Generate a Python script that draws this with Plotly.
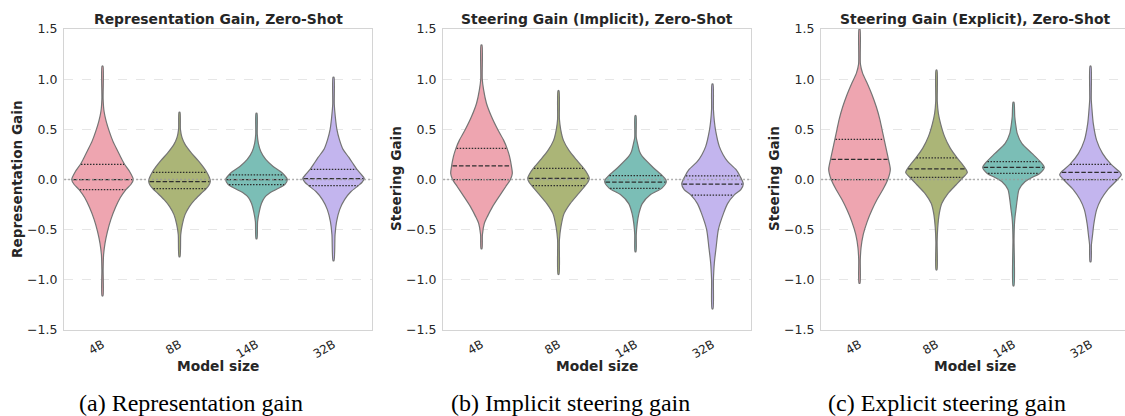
import numpy as np
import plotly.graph_objects as go

MODELS = ["4B", "8B", "14B", "32B"]
COLORS = ["#eea5b0", "#abb577", "#7bbeb6", "#c3b5ee"]
PANEL_TITLES = ["Representation Gain, Zero-Shot", "Steering Gain (Implicit), Zero-Shot",
                "Steering Gain (Explicit), Zero-Shot"]
Y_TITLES = ["Representation Gain", "Steering Gain", "Steering Gain"]
CAPTIONS = ["(a) Representation gain", "(b) Implicit steering gain", "(c) Explicit steering gain"]
Y_TICKS = [-1.5, -1.0, -0.5, 0.0, 0.5, 1.0, 1.5]

# ---- density profiles (value level, relative density) ----
# Representation gain
rep_4b_y = [1.13, 0.80, 0.68, 0.58, 0.48, 0.38, 0.28, 0.20, 0.15, 0.08, 0.0, -0.05, -0.10, -0.18, -0.28, -0.40, -0.52, -0.64, -0.75, -0.90, -1.16]
rep_4b_d = [0.015, 0.02, 0.05, 0.12, 0.22, 0.34, 0.50, 0.63, 0.72, 0.88, 1.0, 0.92, 0.76, 0.58, 0.42, 0.27, 0.16, 0.08, 0.035, 0.02, 0.015]
rep_8b_y = [0.67, 0.50, 0.42, 0.35, 0.27, 0.19, 0.12, 0.07, 0.02, -0.02, -0.06, -0.09, -0.14, -0.20, -0.27, -0.35, -0.45, -0.55, -0.77]
rep_8b_d = [0.015, 0.03, 0.08, 0.18, 0.37, 0.60, 0.78, 0.89, 0.97, 1.0, 0.95, 0.87, 0.70, 0.50, 0.32, 0.18, 0.09, 0.04, 0.015]
rep_14b_y = [0.66, 0.45, 0.36, 0.28, 0.20, 0.13, 0.08, 0.045, 0.0, -0.05, -0.09, -0.13, -0.18, -0.24, -0.32, -0.42, -0.59]
rep_14b_d = [0.015, 0.025, 0.06, 0.14, 0.30, 0.54, 0.78, 0.90, 1.0, 0.92, 0.70, 0.45, 0.26, 0.16, 0.09, 0.035, 0.015]
rep_32b_y = [1.02, 0.75, 0.62, 0.50, 0.40, 0.30, 0.22, 0.15, 0.10, 0.05, 0.01, -0.03, -0.06, -0.12, -0.20, -0.30, -0.42, -0.55, -0.81]
rep_32b_d = [0.015, 0.025, 0.06, 0.11, 0.19, 0.31, 0.50, 0.65, 0.76, 0.90, 1.0, 0.92, 0.81, 0.57, 0.36, 0.20, 0.10, 0.05, 0.015]
rep_q1 = [-0.10, -0.09, -0.05, -0.06]
rep_med = [0.0, -0.02, 0.0, 0.01]
rep_q3 = [0.15, 0.07, 0.045, 0.10]

# Implicit steering gain
imp_4b_y = [1.34, 1.0, 0.89, 0.76, 0.63, 0.49, 0.39, 0.31, 0.23, 0.135, 0.06, 0.0, -0.07, -0.17, -0.27, -0.37, -0.44, -0.55, -0.69]
imp_4b_d = [0.015, 0.025, 0.07, 0.16, 0.32, 0.54, 0.72, 0.83, 0.91, 0.97, 1.0, 0.94, 0.79, 0.57, 0.36, 0.19, 0.09, 0.03, 0.015]
imp_8b_y = [0.885, 0.60, 0.50, 0.39, 0.29, 0.19, 0.11, 0.05, 0.012, -0.03, -0.06, -0.14, -0.24, -0.34, -0.47, -0.60, -0.945]
imp_8b_d = [0.015, 0.03, 0.07, 0.16, 0.34, 0.60, 0.82, 0.95, 1.0, 0.95, 0.87, 0.65, 0.38, 0.18, 0.08, 0.03, 0.015]
imp_14b_y = [0.636, 0.42, 0.36, 0.28, 0.23, 0.13, 0.038, 0.0, -0.025, -0.088, -0.15, -0.24, -0.34, -0.44, -0.55, -0.72]
imp_14b_d = [0.015, 0.025, 0.065, 0.13, 0.22, 0.54, 0.87, 0.98, 1.0, 0.85, 0.49, 0.22, 0.11, 0.055, 0.025, 0.015]
imp_32b_y = [0.952, 0.70, 0.58, 0.49, 0.33, 0.25, 0.18, 0.10, 0.035, -0.045, -0.10, -0.155, -0.24, -0.335, -0.50, -0.67, -0.83, -1.0, -1.29]
imp_32b_d = [0.015, 0.03, 0.06, 0.10, 0.22, 0.34, 0.49, 0.76, 0.89, 1.0, 0.92, 0.70, 0.49, 0.36, 0.19, 0.12, 0.06, 0.03, 0.015]
imp_q1 = [0.0, -0.06, -0.088, -0.155]
imp_med = [0.135, 0.012, -0.025, -0.045]
imp_q3 = [0.31, 0.11, 0.038, 0.035]

# Explicit steering gain
exp_4b_y = [1.5, 1.15, 1.06, 0.96, 0.85, 0.72, 0.60, 0.50, 0.40, 0.30, 0.20, 0.10, 0.0, -0.10, -0.20, -0.30, -0.42, -0.55, -0.68, -0.80, -1.035]
exp_4b_d = [0.015, 0.03, 0.10, 0.25, 0.40, 0.55, 0.66, 0.73, 0.80, 0.87, 0.94, 1.0, 0.92, 0.76, 0.57, 0.41, 0.25, 0.12, 0.05, 0.025, 0.015]
exp_8b_y = [1.09, 0.78, 0.66, 0.56, 0.43, 0.31, 0.215, 0.15, 0.105, 0.07, 0.02, -0.055, -0.14, -0.24, -0.34, -0.48, -0.62, -0.90]
exp_8b_d = [0.015, 0.025, 0.06, 0.13, 0.26, 0.45, 0.67, 0.84, 0.95, 1.0, 0.86, 0.63, 0.37, 0.17, 0.09, 0.04, 0.02, 0.015]
exp_14b_y = [0.77, 0.63, 0.55, 0.46, 0.36, 0.26, 0.178, 0.12, 0.06, 0.02, -0.02, -0.10, -0.20, -0.30, -0.37, -0.45, -0.60, -1.06]
exp_14b_d = [0.015, 0.04, 0.07, 0.12, 0.27, 0.60, 0.87, 1.0, 0.85, 0.60, 0.38, 0.18, 0.12, 0.08, 0.05, 0.03, 0.018, 0.015]
exp_32b_y = [1.13, 0.80, 0.69, 0.56, 0.39, 0.26, 0.15, 0.072, 0.045, 0.0, -0.10, -0.20, -0.30, -0.44, -0.57, -0.65, -0.82]
exp_32b_d = [0.015, 0.025, 0.05, 0.09, 0.20, 0.39, 0.67, 0.96, 1.0, 0.88, 0.56, 0.34, 0.20, 0.11, 0.06, 0.03, 0.015]
exp_q1 = [0.0, 0.02, 0.06, 0.0]
exp_med = [0.20, 0.105, 0.12, 0.072]
exp_q3 = [0.40, 0.215, 0.178, 0.15]

panels = [
    ([(rep_4b_y, rep_4b_d), (rep_8b_y, rep_8b_d), (rep_14b_y, rep_14b_d), (rep_32b_y, rep_32b_d)], rep_q1, rep_med, rep_q3),
    ([(imp_4b_y, imp_4b_d), (imp_8b_y, imp_8b_d), (imp_14b_y, imp_14b_d), (imp_32b_y, imp_32b_d)], imp_q1, imp_med, imp_q3),
    ([(exp_4b_y, exp_4b_d), (exp_8b_y, exp_8b_d), (exp_14b_y, exp_14b_d), (exp_32b_y, exp_32b_d)], exp_q1, exp_med, exp_q3),
]

# ---- layout geometry (pixels) ----
FIG_W, FIG_H = 1125, 416
M_L, M_R, M_T, M_B = 64, 0, 29, 86
PW = FIG_W - M_L - M_R
PH = FIG_H - M_T - M_B
panel_px = [(64, 372), (443, 751), (821, 1125)]
full_right = [372, 751, 1129]
caption_cx = [191, 570, 947]
HALF = 0.4

def px_x(p):
    return (p - M_L) / PW

def px_y(p):
    return (FIG_H - M_B - p) / PH

fig = go.Figure()
FONT = "DejaVu Sans"
TXT = "#262626"

for p, (profiles, q1, med, q3) in enumerate(panels):
    sfx = "" if p == 0 else str(p + 1)
    xa, ya = "x" + sfx, "y" + sfx
    for i, (ys, ds) in enumerate(profiles):
        ys = np.asarray(ys, float)
        ws = np.asarray(ds, float) * HALF
        xs = np.concatenate([i + ws, (i - ws)[::-1], [i + ws[0]]])
        yy = np.concatenate([ys, ys[::-1], [ys[0]]])
        fig.add_trace(go.Scatter(
            x=xs, y=yy, mode="lines", fill="toself", fillcolor=COLORS[i],
            line=dict(color="#747474", width=1.2, shape="spline", smoothing=0.7),
            xaxis=xa, yaxis=ya, showlegend=False, hoverinfo="skip"))
        for qv, dsh in ((q1[i], "1.5px,1.5px"), (med[i], "4.5px,2px"), (q3[i], "1.5px,1.5px")):
            hw = float(np.interp(qv, ys[::-1], ws[::-1])) * 0.97
            fig.add_trace(go.Scatter(
                x=[i - hw, i + hw], y=[qv, qv], mode="lines",
                line=dict(color="#2e2e2e", width=1.25, dash=dsh),
                xaxis=xa, yaxis=ya, showlegend=False, hoverinfo="skip"))
    # zero reference line
    fig.add_trace(go.Scatter(
        x=[-0.6, 3.6], y=[0, 0], mode="lines",
        line=dict(color="#9a9a9a", width=1.4, dash="1.5px,2.5px"),
        xaxis=xa, yaxis=ya, showlegend=False, hoverinfo="skip"))

    x0, x1 = panel_px[p]
    xr_end = -0.5 + 4 * (x1 - x0) / (full_right[p] - x0)
    fig.update_layout(**{
        "xaxis" + sfx: dict(
            domain=[px_x(x0), px_x(x1)], range=[-0.5, xr_end], anchor=ya,
            tickvals=[0, 1, 2, 3], ticktext=MODELS, tickangle=-30,
            showgrid=False, zeroline=False, showline=True, mirror=True,
            linecolor="#d4d4d4", linewidth=1.2,
            ticks="outside", ticklen=2, tickcolor="rgba(0,0,0,0)",
            tickfont=dict(family=FONT, size=12, color=TXT)),
        "yaxis" + sfx: dict(
            domain=[0, 1], range=[-1.5, 1.5], anchor=xa,
            tickvals=Y_TICKS,
            ticktext=[("\u2212" if v < 0 else "") + f"{abs(v):.1f}" for v in Y_TICKS],
            showgrid=True, gridcolor="#e6e6e6", gridwidth=0.8, griddash="dash",
            zeroline=False, showline=True, mirror=(p < 2),
            linecolor="#d4d4d4", linewidth=1.2,
            ticks="outside", ticklen=3, tickcolor="rgba(0,0,0,0)",
            tickfont=dict(family=FONT, size=12.5, color=TXT)),
    })
    cx = (x0 + full_right[p]) / 2
    fig.add_annotation(x=px_x(cx), y=px_y(19), xref="paper", yref="paper",
                       text=f"<b>{PANEL_TITLES[p]}</b>", showarrow=False,
                       font=dict(family=FONT, size=13.9, color=TXT),
                       xanchor="center", yanchor="middle")
    fig.add_annotation(x=px_x(cx), y=px_y(366), xref="paper", yref="paper",
                       text="<b>Model size</b>", showarrow=False,
                       font=dict(family=FONT, size=13.8, color=TXT),
                       xanchor="center", yanchor="middle")
    fig.add_annotation(x=px_x(x0 - 47), y=px_y(179), xref="paper", yref="paper",
                       text=f"<b>{Y_TITLES[p]}</b>", showarrow=False, textangle=-90,
                       font=dict(family=FONT, size=13.6, color=TXT),
                       xanchor="center", yanchor="middle")
    fig.add_annotation(x=px_x(caption_cx[p]), y=px_y(403), xref="paper", yref="paper",
                       text=CAPTIONS[p], showarrow=False,
                       font=dict(family="Liberation Serif", size=24, color="#000000"),
                       xanchor="center", yanchor="middle")

fig.update_layout(
    width=FIG_W, height=FIG_H,
    margin=dict(l=M_L, r=M_R, t=M_T, b=M_B, pad=0),
    paper_bgcolor="white", plot_bgcolor="white",
    showlegend=False,
)

fig.write_html("out.html", include_plotlyjs=True, config={"displayModeBar": False})
